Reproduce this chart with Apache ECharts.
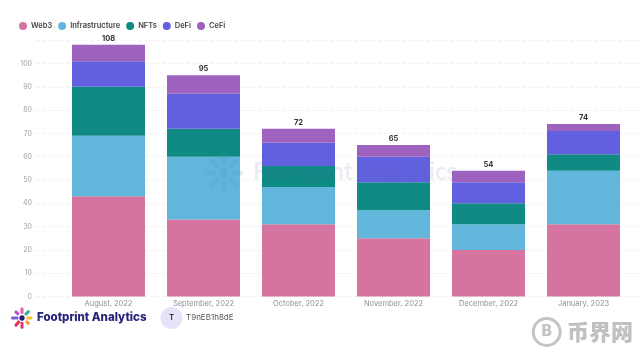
<!DOCTYPE html>
<html><head><meta charset="utf-8">
<style>html,body{margin:0;padding:0;background:#fff}#c{width:644px;height:359px;filter:blur(0.45px)}</style>
<script src="https://cdn.jsdelivr.net/npm/echarts@6/dist/echarts.min.js"></script></head>
<body><div id="c"></div>
<script>
const categories = ['August, 2022','September, 2022','October, 2022','November, 2022','December, 2022','January, 2023'];
const web3 = [43,33,31,25,20,31];
const infrastructure = [26,27,16,12,11,23];
const nfts = [21,12,9,12,9,7];
const defi = [11,15,10,11,9,10];
const cefi = [7,8,6,5,5,3];
const yTicks = [0,10,20,30,40,50,60,70,80,90,100];
const totals = categories.map((_, i) => web3[i]+infrastructure[i]+nfts[i]+defi[i]+cefi[i]);
const names = ['Web3','Infrastructure','NFTs','DeFi','CeFi'];
const colors = ['#d5749f','#62b6dc','#0f8a85','#6160df','#9c62bd'];
const values = [web3,infrastructure,nfts,defi,cefi];
const chart = echarts.init(document.getElementById('c'),null,{renderer:'canvas'});
const font = 'Inter, Roboto, sans-serif';
const petals = [[0,'#f2c230',0.9],[40,'#f0a030',0.7],[90,'#d83a80',1],[130,'#e0304f',1],[180,'#7a5bd0',1.05],[225,'#c04fd0',0.8],[270,'#e060b0',0.9],[315,'#2fb39a',0.9]];
function logo(cx,cy,r){
  const out=[{type:'circle',shape:{cx,cy,r:r*0.24},style:{fill:'#1f1f7a'},z:50}];
  petals.forEach(([a,col,k])=>{
    const t=a*Math.PI/180, d=r*0.66;
    out.push({type:'rect',x:cx+Math.cos(t)*d,y:cy+Math.sin(t)*d,rotation:-t,
      shape:{x:-r*0.32*k,y:-r*0.14,width:r*0.64*k,height:r*0.28,r:r*0.12},
      style:{fill:col},z:50});
  });
  return out;
}
const wmAngles = [0,45,90,135,180,225,270,315];
function watermarkIcon(cx,cy,r){
  const out=[{type:'circle',shape:{cx,cy,r:r*0.22},style:{fill:'#4f8fb5',opacity:0.22},z:40}];
  wmAngles.forEach(a=>{
    const t=a*Math.PI/180,d=r*0.66;
    out.push({type:'rect',x:cx+Math.cos(t)*d,y:cy+Math.sin(t)*d,rotation:-t,
      shape:{x:-r*0.3,y:-r*0.13,width:r*0.6,height:r*0.26,r:r*0.12},
      style:{fill:'#4f8fb5',opacity:0.18},z:40});
  });
  return out;
}
chart.setOption({
  animation:false,
  backgroundColor:'#fff',
  legend:{left:14,top:17,itemWidth:8,itemHeight:8,itemGap:6,icon:'circle',
    data:names,textStyle:{fontFamily:font,fontSize:7.5,fontWeight:600,color:'#444',padding:[0,0,0,-1]}},
  grid:[
    {left:61,right:13,top:40.2,bottom:62.5},
    {left:36,right:2,top:40.2,bottom:62.5}
  ],
  xAxis:[
    {type:'category',gridIndex:0,data:categories,axisTick:{show:false},axisLine:{show:false},
      axisLabel:{fontFamily:font,fontSize:7.5,color:'#8f8f97',margin:3.5,interval:0}},
    {type:'value',gridIndex:1,min:0,max:1,show:false}
  ],
  yAxis:[
    {type:'value',gridIndex:0,min:0,max:110,show:false},
    {type:'value',gridIndex:1,min:0,max:110,interval:10,
      axisLine:{show:false},axisTick:{show:false},
      axisLabel:{fontFamily:font,fontSize:7,color:'#a0a0a6',margin:4,
        formatter:v=>yTicks.includes(v)?String(v):''},
      splitLine:{lineStyle:{color:'#f3f3f3',width:1,type:'dashed'}}}
  ],
  series:names.map((n,i)=>({
    name:n,type:'bar',stack:'total',xAxisIndex:0,yAxisIndex:0,barWidth:73,
    data:values[i],itemStyle:{color:colors[i]},z:5,
    label:i===4?{show:true,position:'top',distance:2,fontFamily:font,fontSize:7.5,fontWeight:700,color:'#333',
      formatter:p=>String(totals[p.dataIndex])}:{show:false}
  })),
  graphic:[
    ...logo(22,318,11),
    {type:'text',x:37,y:318,z:50,style:{text:'Footprint Analytics',verticalAlign:'middle',fontFamily:'Inter, sans-serif',fontSize:11.5,fontWeight:800,fill:'#25257a'}},
    {type:'circle',shape:{cx:171.5,cy:318,r:11},style:{fill:'#e4e3f7'},z:50},
    {type:'text',x:171.5,y:318,z:51,style:{text:'T',align:'center',verticalAlign:'middle',fontFamily:font,fontSize:7,fontWeight:700,fill:'#333'}},
    {type:'text',x:186,y:318,z:51,style:{text:'T9nEB1h8dE',verticalAlign:'middle',fontFamily:font,fontSize:8,fill:'#555'}},
    ...watermarkIcon(224,173,20),
    {type:'text',x:253,y:172,z:40,style:{text:'Footprint Analytics',verticalAlign:'middle',fontFamily:'Lato, sans-serif',fontSize:24,fontWeight:700,fill:'rgba(90,110,170,0.12)'}},
    {type:'circle',shape:{cx:546.7,cy:332,r:13.5},style:{fill:'none',stroke:'#c4c4c4',lineWidth:3},z:50},
    {type:'text',x:546.7,y:332,z:50,style:{text:'B',align:'center',verticalAlign:'middle',fontFamily:'DejaVu Sans, sans-serif',fontSize:15,fontWeight:700,fill:'#c4c4c4'}},
    {type:'text',x:567,y:331.5,z:50,style:{text:'币界网',verticalAlign:'middle',fontFamily:'"Noto Sans CJK SC"',fontSize:22,fontWeight:900,fill:'#c0c0c0'}}
  ]
});
</script></body></html>
